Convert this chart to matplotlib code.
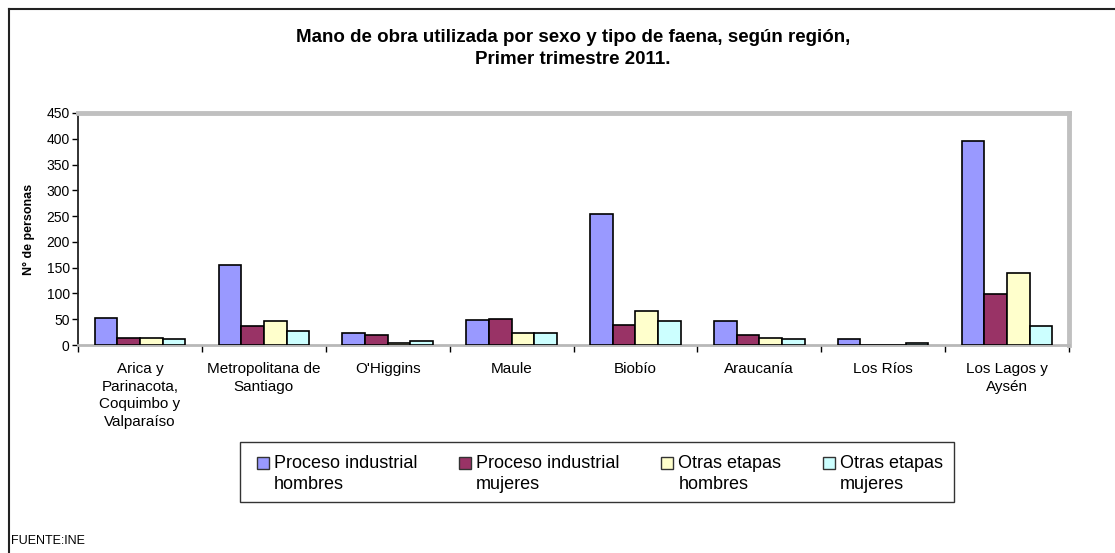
import matplotlib
matplotlib.use("Agg")
import matplotlib.pyplot as plt
import numpy as np
from matplotlib.lines import Line2D
from matplotlib.patches import Rectangle
from matplotlib.container import BarContainer
from matplotlib.legend_handler import HandlerPatch, update_from_first_child

plt.rcParams['font.family'] = ['Liberation Sans', 'DejaVu Sans']

# datos
regiones = ['Arica y\nParinacota,\nCoquimbo y\nValparaíso', 'Metropolitana de\nSantiago',
            "O'Higgins", 'Maule', 'Biobío', 'Araucanía', 'Los Ríos', 'Los Lagos y\nAysén']
series = ['Proceso industrial\nhombres', 'Proceso industrial\nmujeres',
          'Otras etapas\nhombres', 'Otras etapas\nmujeres']
ind_hombres = [52, 155, 24, 48, 255, 46, 12, 396]
ind_mujeres = [14, 36, 20, 50, 39, 20, 1, 98]
otras_hombres = [14, 46, 3, 23, 65, 14, 1, 139]
otras_mujeres = [12, 27, 8, 24, 46, 12, 3, 36]
colores = ['#9999FF', '#993366', '#FFFFCC', '#CCFFFF']
valores = [ind_hombres, ind_mujeres, otras_hombres, otras_mujeres]

fig = plt.figure(figsize=(11.15, 5.53), dpi=100)
ax = fig.add_axes([0.0700, 0.3761, 0.8887, 0.4196])

x = np.arange(len(regiones))
w = 0.183
bars = []
for i, (vals, col) in enumerate(zip(valores, colores)):
    b = ax.bar(x + (i - 1.5) * w, vals, w, color=col, edgecolor='black', linewidth=1.2, zorder=3)
    bars.append(b)

ax.set_xlim(-0.5, len(regiones) - 0.5)
ax.set_ylim(0, 450)
ax.set_yticks(np.arange(0, 451, 50))
ax.tick_params(axis='y', labelsize=10, length=4, width=1, direction='out', pad=2)

# ticks en los limites de categoria, etiquetas en el centro
ax.set_xticks(np.arange(-0.5, len(regiones), 1.0))
ax.set_xticklabels([])
ax.tick_params(axis='x', length=5, width=1, direction='out')
ax.set_xticks(x, minor=True)
ax.set_xticklabels(regiones, minor=True, fontsize=11, linespacing=1.35, va='top')
ax.tick_params(axis='x', which='minor', length=0, pad=12)

ax.set_ylabel('N° de personas', fontsize=9, fontweight='bold', labelpad=8)

for s in ['top', 'right']:
    ax.spines[s].set_color('#C0C0C0')
    ax.spines[s].set_linewidth(3.5)
ax.spines['bottom'].set_color('#B8B8B8')
ax.spines['bottom'].set_linewidth(2)
ax.spines['left'].set_color('#222222')
ax.spines['left'].set_linewidth(1.3)

fig.text(0.514, 1 - 48.5 / 553, 'Mano de obra utilizada por sexo y tipo de faena, según región,\nPrimer trimestre 2011.',
         ha='center', va='center', fontsize=13.5, fontweight='bold', linespacing=1.35)

fig.text(11 / 1115, 1 - 541 / 553, 'FUENTE:INE', fontsize=9, va='center', ha='left')


# cuadrito de leyenda alineado con la primera linea
def cuadro(legend, orig_handle, xdescent, ydescent, width, height, fontsize):
    return Rectangle((-xdescent, -ydescent + 8), width, height)


# marco de la leyenda
fig.add_artist(Rectangle((240 / 1115, 1 - 502 / 553), 714 / 1115, 60 / 553, transform=fig.transFigure,
                         facecolor='white', edgecolor='#333333', lw=1, zorder=1))

leg = fig.legend(bars, series, loc='center', ncol=4, mode='expand',
                 bbox_to_anchor=(257 / 1115, 1 - 474 / 553, 686 / 1115, 0),
                 fontsize=13, frameon=False, handlelength=0.65, handleheight=0.65, handletextpad=0.3,
                 borderpad=0, borderaxespad=0, labelspacing=0,
                 handler_map={BarContainer: HandlerPatch(patch_func=cuadro, update_func=update_from_first_child)})
leg.set_zorder(2)
for t in leg.get_texts():
    t.set_linespacing(1.3)
for h in leg.legend_handles:
    h.set_edgecolor('#333333')
    h.set_linewidth(1)

# marco exterior (arriba e izquierda)
fig.add_artist(Line2D([9 / 1115, 1], [1 - 9 / 553, 1 - 9 / 553], transform=fig.transFigure, color='#222222', lw=1.5))
fig.add_artist(Line2D([9 / 1115, 9 / 1115], [0, 1 - 9 / 553], transform=fig.transFigure, color='#222222', lw=1.5))

fig.savefig('out.png', dpi=100)
